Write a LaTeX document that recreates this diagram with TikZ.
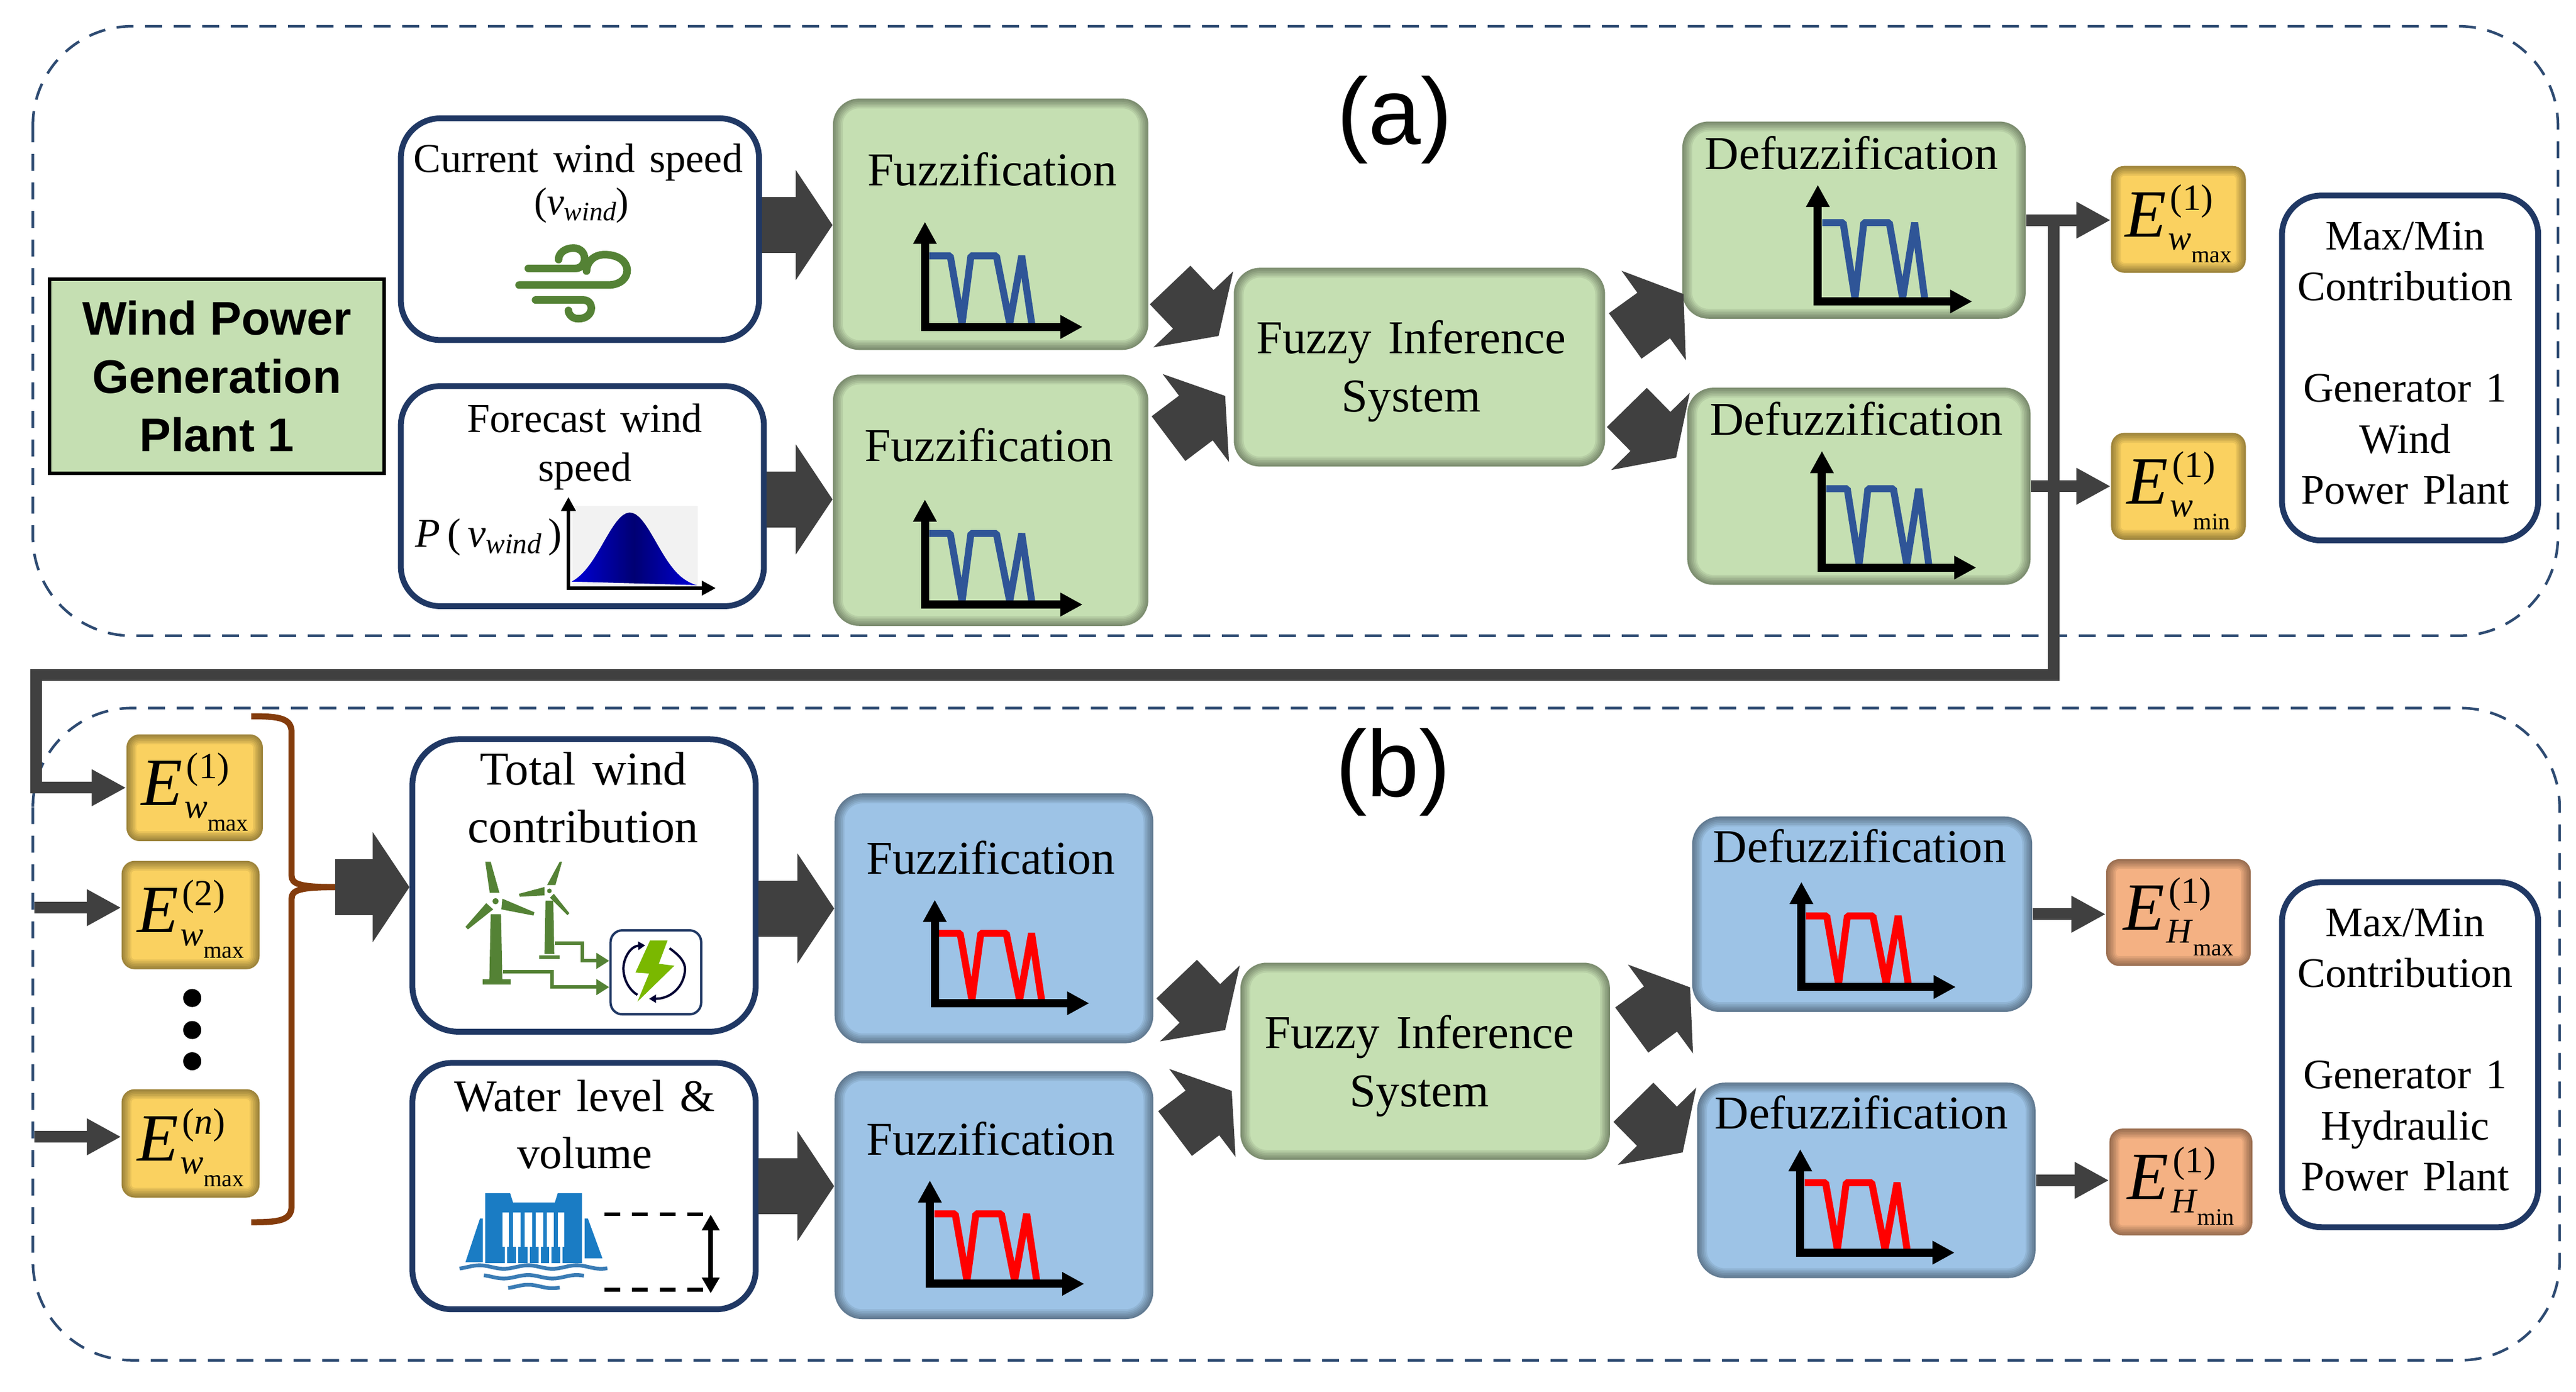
\documentclass[tikz,border=0pt]{standalone}
\usepackage{fontspec}
\setmainfont[WordSpace=1.4]{Liberation Serif}
\newfontfamily\headfont{Liberation Sans}
\usetikzlibrary{arrows.meta,calc}
\definecolor{navyline}{HTML}{203864}
\definecolor{dashline}{HTML}{2E4B72}
\definecolor{arrgray}{HTML}{404040}
\definecolor{softgreen}{HTML}{C5DFB2}
\definecolor{softblue}{HTML}{9DC3E6}
\definecolor{softyellow}{HTML}{FAD160}
\definecolor{softorange}{HTML}{F4B183}
\definecolor{chblue}{HTML}{2F5597}
\definecolor{chred}{HTML}{FF0000}
\definecolor{leafgreen}{HTML}{548235}
\definecolor{boltgreen}{HTML}{7AB800}
\definecolor{damblue}{HTML}{1A7CC4}
\definecolor{wavblue}{HTML}{3A7CB5}
\definecolor{bracebrown}{HTML}{843C0C}
\newcommand{\enlab}[3]{{\fontsize{33}{33}\selectfont\textit{E}}\rlap{\hspace{2pt}\raisebox{13pt}{\fontsize{18}{18}\selectfont #3}}\hspace{1pt}\raisebox{-6.4pt}{\fontsize{17}{17}\selectfont\textit{#1}\raisebox{-6.2pt}{\fontsize{11.5}{11.5}\selectfont #2}}}
\tikzset{
  sz/.style 2 args={minimum width=#1*0.2818mm,minimum height=#2*0.2818mm,inner sep=0pt},
  softbox/.style 2 args={fill=#1,rounded corners=#2*0.2818mm,
    path picture={\foreach \w in {2,4,6,8,10,12}{
      \draw[black,opacity=.07,line width=\w*0.2818mm,rounded corners=#2*0.2818mm]
        (path picture bounding box.south west) rectangle (path picture bounding box.north east);}}},
  greenbox/.style={softbox={softgreen}{16}},
  bluebox/.style={softbox={softblue}{17}},
  ebox/.style={softbox={#1}{8},text height=26pt,text depth=9pt},
  whitebox/.style={draw=navyline,line width=1mm,fill=white,rounded corners=6.8mm,inner sep=0pt},
  zonebox/.style={draw=dashline,line width=.45mm,rounded corners=17mm,dash pattern=on 2.9mm off 2mm},
  boxtxt/.style={font=\fontsize{23}{28.4}\selectfont,align=center,inner sep=0pt},
  sidetxt/.style={font=\fontsize{20.5}{24.8}\selectfont,align=center,inner sep=0pt},
  bigarrow/.style={draw=arrgray,line width=9.6mm,-{Triangle[length=6.3mm,width=18.6mm]}},
  thinarrow/.style={draw=arrgray,line width=2mm,-{Triangle[length=5.9mm,width=5.9mm]}},
  pics/fuzzchart/.style n args={3}{code={
    \draw[#1,line width=1.2mm,line join=bevel] (2.7,-.676*#2) -- (15.4,-.676*#2) -- (22.6,-2) -- (28,-.676*#2)
      -- (43.5,-.676*#2) -- (51.6,-2) -- (58.9,-.676*#2) -- (65,-2);
    \draw[black,line width=1.4mm,{Triangle[length=3.8mm,width=3.8mm]}-{Triangle[length=3.8mm,width=3.8mm]}]
      (0,-#2) -- (0,0) -- (#3,0);
  }}
}
\begin{document}
\begin{tikzpicture}[x=0.2818mm,y=-0.2818mm]
\useasboundingbox (0,0) rectangle (1568,847);
% dashed zones
\draw[zonebox] (20,16) rectangle (1557,387);
\draw[zonebox] (20,431) rectangle (1558,828);
\node[font=\headfont\fontsize{46}{46}\selectfont,inner sep=0pt] (titleA) at (849,73) {(a)};
\node[font=\headfont\fontsize{46}{46}\selectfont,inner sep=0pt] (titleB) at (848,470) {(b)};
% upper row
\node[draw=black,line width=.6mm,fill=softgreen,sz={204}{118},align=center,
  font=\headfont\bfseries\fontsize{23}{28.5}\selectfont] (plant) at (132,229) {Wind Power\\Generation\\Plant 1};
\node[whitebox,sz={218}{135}] (cur) at (353,139.5) {};
\node[whitebox,sz={221}{134}] (fore) at (354.5,302) {};
\node[greenbox,sz={192}{153}] (fuzzA1) at (603,136.5) {};
\node[greenbox,sz={192}{153}] (fuzzA2) at (603,304.5) {};
\node[greenbox,sz={226}{121}] (fisA) at (864,223.5) {};
\node[greenbox,sz={209}{120}] (defA1) at (1128.5,134) {};
\node[greenbox,sz={209}{120}] (defA2) at (1131.5,296) {};
\node[ebox=softyellow,sz={82}{65}] (Eamax) at (1326,133.5) {\enlab{w}{max}{(1)}};
\node[ebox=softyellow,sz={82}{65}] (Eamin) at (1326,296) {\enlab{w}{min}{(1)}};
\node[whitebox,sz={156}{210}] (maxA) at (1467,224) {};
% lower row
\node[ebox=softyellow,sz={83}{65}] (Ew1) at (118.5,479.5) {\enlab{w}{max}{(1)}};
\node[ebox=softyellow,sz={84}{66}] (Ew2) at (116,557) {\enlab{w}{max}{(2)}};
\node[ebox=softyellow,sz={84}{66}] (Ewn) at (116,696) {\enlab{w}{max}{(\textit{n})}};
\node[whitebox,rounded corners=7.9mm,sz={209}{178}] (tot) at (355.5,539) {};
\node[whitebox,sz={209}{150}] (water) at (355.5,722) {};
\node[bluebox,sz={194}{152}] (fuzzB1) at (605,559) {};
\node[bluebox,sz={194}{151}] (fuzzB2) at (605,727.5) {};
\node[greenbox,sz={225}{120}] (fisB) at (867.5,646) {};
\node[bluebox,sz={207}{119}] (defB1) at (1133.5,556.5) {};
\node[bluebox,sz={206}{119}] (defB2) at (1136,718.5) {};
\node[ebox=softorange,sz={88}{65}] (Ehmax) at (1326,555.5) {\enlab{H}{max}{(1)}};
\node[ebox=softorange,sz={87}{65}] (Ehmin) at (1327.5,719.5) {\enlab{H}{min}{(1)}};
\node[whitebox,sz={156}{210}] (maxB) at (1467,642) {};
\foreach \d/\y in {dot1/607.5,dot2/627,dot3/646}
  \node[circle,fill=black,minimum size=3.1mm,inner sep=0pt] (\d) at (117,\y) {};
% box texts
\node[boxtxt,font=\fontsize{20}{24}\selectfont] (curlab) at (352,99) {Current wind speed};
\node[sidetxt,font=\fontsize{19}{19}\selectfont] (curvar) at (354,125) {(\textit{v}\raisebox{-3pt}{\fontsize{13}{13}\selectfont\textit{wind}})};
\node[boxtxt,font=\fontsize{20}{24}\selectfont] (forelab) at (356,272) {Forecast wind\\speed};
\node[sidetxt,font=\fontsize{20}{20}\selectfont] (forevar) at (297.5,327) {\textit{P}\,(\,\textit{v}\raisebox{-3pt}{\fontsize{14}{14}\selectfont\textit{wind}}\,)};
\foreach \n/\x/\y in {a/604/103,b/602/271,c/603/522,d/603/693}
  \node[boxtxt] (fz\n) at (\x,\y) {Fuzzification};
\foreach \n/\x/\y in {a/1127/93,b/1130/255,c/1132/515,d/1133/677}
  \node[boxtxt] (df\n) at (\x,\y) {Defuzzification};
\node[boxtxt] (fisAlab) at (859,226) {Fuzzy Inference\\System};
\node[boxtxt] (fisBlab) at (864,649) {Fuzzy Inference\\System};
\node[boxtxt] (totlab) at (355,485.5) {Total wind\\contribution};
\node[boxtxt,font=\fontsize{22}{28}\selectfont] (watlab) at (356,684.5) {Water level \&\\volume};
\node[sidetxt] (maxAlab) at (1464,221) {Max/Min\\Contribution\\[24.8pt]Generator 1\\Wind\\Power Plant};
\node[sidetxt] (maxBlab) at (1464,639) {Max/Min\\Contribution\\[24.8pt]Generator 1\\Hydraulic\\Power Plant};
% fuzzy charts
\foreach \x/\y/\h in {563/199/64,563/368/64}
  \pic at (\x,\y) {fuzzchart={chblue}{\h}{96}};
\foreach \x/\y/\h in {1106.5/183.5/71,1109/345.5/71}
  \pic at (\x,\y) {fuzzchart={chblue}{\h}{94}};
\foreach \x/\y/\h in {569/610.7/63,566/781.5/63,1096.5/600.8/64,1095.8/762.5/63}
  \pic at (\x,\y) {fuzzchart={chred}{\h}{94}};
% wind icon
\draw[leafgreen,line width=1.3mm,line cap=round] (321.6,163.4) -- (350,163.4)
  .. controls (358,163.4) and (358,151) .. (349,151) .. controls (344,151) and (340,154) .. (340,158);
\draw[leafgreen,line width=1.3mm,line cap=round] (316,173.5) -- (370,173.5)
  .. controls (386,173.5) and (386,155) .. (368,155) .. controls (361,155) and (357,160) .. (357,165);
\draw[leafgreen,line width=1.3mm,line cap=round] (326,182.6) -- (355,182.6)
  .. controls (362,182.6) and (362,194) .. (352,194) .. controls (348,194) and (346,191) .. (346,189);
% forecast curve
\fill[black!5] (348.5,308) rectangle (424.6,358);
\shade[left color=blue!85!black,right color=blue!85!black,middle color=blue!45!black]
  plot[domain=348:424,samples=40] (\x,{358-46*exp(-1*pow(\x-383.4,2)/512)}) -- cycle;
\draw[black,line width=.6mm,{Triangle[length=2.4mm,width=2.4mm]}-{Triangle[length=2.4mm,width=2.4mm]}]
  (346,302.5) -- (346,358) -- (435.7,358);
% turbines and storage
\begin{scope}[shift={(269.7,514.5)},scale=.1183]
  \fill[leafgreen] (245,355) -- (298,355) -- (305,690) -- (238,690) -- cycle;
  \fill[leafgreen] (205,690) rectangle (348,718);
  \fill[leafgreen] (217,85) -- (245,85) -- (290,245) -- (240,245) -- cycle;
  \fill[leafgreen] (305,275) -- (470,345) -- (465,362) -- (300,330) -- cycle;
  \fill[leafgreen] (222,298) -- (258,330) -- (128,433) -- (115,420) -- cycle;
  \fill[leafgreen] (270,288) circle (16);
  \fill[leafgreen] (527,285) -- (567,285) -- (572,560) -- (522,560) -- cycle;
  \fill[leafgreen] (495,568) rectangle (600,585);
  \fill[leafgreen] (600,85) -- (612,85) -- (578,205) -- (535,205) -- cycle;
  \fill[leafgreen] (390,250) -- (395,265) -- (522,258) -- (522,215) -- cycle;
  \fill[leafgreen] (570,250) -- (650,350) -- (640,360) -- (550,270) -- cycle;
  \fill[leafgreen] (547,235) circle (12);
  \draw[leafgreen,line width=.6mm,-{Triangle[length=2.2mm,width=2.6mm]}] (310,650) -- (560,650) -- (560,730) -- (855,730);
  \draw[leafgreen,line width=.6mm,-{Triangle[length=2.2mm,width=2.6mm]}] (575,505) -- (718,505) -- (718,595) -- (855,595);
  \draw[navyline,line width=.4mm,rounded corners=2mm] (862,438) rectangle (1328,870);
  \draw[black!80!blue,line width=.4mm,{Triangle[length=1.2mm,width=1.4mm]}-] (1040,515)
    .. controls (960,520) and (925,590) .. (928,640) .. controls (930,700) and (965,750) .. (1000,770);
  \draw[black!80!blue,line width=.4mm,-{Triangle[length=1.2mm,width=1.4mm]}] (1165,530)
    .. controls (1220,570) and (1245,600) .. (1245,640) .. controls (1240,730) and (1170,790) .. (1060,790);
  \fill[boltgreen] (1065,490) -- (1155,490) -- (1110,610) -- (1190,620) -- (1000,805) -- (1060,660) -- (990,655) -- cycle;
\end{scope}
% dam and water level
\begin{scope}[shift={(269.7,720.4)},scale=.1183]
  \fill[damblue] (217,50) -- (345,50) -- (360,98) -- (575,98) -- (590,50) -- (715,50) -- (715,410) -- (217,410) -- cycle;
  \fill[damblue] (205,180) -- (190,180) -- (115,405) -- (205,405) -- cycle;
  \fill[damblue] (728,180) -- (745,180) -- (820,385) -- (728,385) -- cycle;
  \foreach \a/\b in {305/340,360/400,420/460,478/515,535/570,590/625}{
    \fill[white] (\a,150) rectangle (\b,325);
    \fill[white] ({(\a+\b)/2-6},325) rectangle ({(\a+\b)/2+6},410);}
  \draw[wavblue,line width=.65mm] plot[domain=85:845,samples=60] (\x,{430+9*sin(1.44*\x)});
  \draw[wavblue,line width=.65mm] plot[domain=210:725,samples=40] (\x,{480+9*sin(1.44*\x)});
  \draw[wavblue,line width=.65mm] plot[domain=335:600,samples=30] (\x,{530+9*sin(1.44*\x)});
  \draw[black,line width=.65mm,dash pattern=on 2.7mm off 2.05mm] (830,158) -- (1340,158);
  \draw[black,line width=.65mm,dash pattern=on 2.7mm off 2.05mm] (830,547) -- (1340,547);
  \draw[black,line width=.8mm,{Triangle[length=2.7mm,width=2.9mm]}-{Triangle[length=2.7mm,width=2.9mm]}] (1377,160) -- (1377,565);
\end{scope}
% brace
\coordinate (braceTip) at (204,540);
\draw[bracebrown,line width=1.05mm] (153,436) .. controls (170,436) and (177.5,437) .. (177.5,446) -- (177.5,533)
  .. controls (177.5,538) and (182,540) .. (braceTip);
\draw[bracebrown,line width=1.05mm] (153,744) .. controls (170,744) and (177.5,743) .. (177.5,734) -- (177.5,547)
  .. controls (177.5,542) and (182,540) .. (braceTip);
% fat arrows
\draw[bigarrow] (braceTip) -- (braceTip -| tot.west);
\draw[bigarrow] ($(cur.east)+(0,-2.5)$) -- ($(cur.east -| fuzzA1.west)+(0,-2.5)$);
\draw[bigarrow] ($(fore.east)+(0,2)$) -- ($(fore.east -| fuzzA2.west)+(0,2)$);
\draw[bigarrow] ($(tot.east)+(0,14)$) -- ($(fuzzB1.west)+(0,-6)$);
\draw[bigarrow] (water.east) -- (water.east -| fuzzB2.west);
\draw[bigarrow] ($(fuzzA1.east)+(13,37)$) -- ($(fisA.west)+(-9,-19)$);
\draw[bigarrow] ($(fuzzA2.east)+(12,-37.5)$) -- ($(fisA.west)+(-5,17.5)$);
\draw[bigarrow] ($(fuzzB1.east)+(14,37)$) -- ($(fisB.west)+(-9,-19)$);
\draw[bigarrow] ($(fuzzB2.east)+(13,-37.5)$) -- ($(fisB.west)+(-5,18)$);
\draw[bigarrow] ($(fisA.east)+(12,-19)$) -- ($(defA1.west)+(1,45)$);
\draw[bigarrow] ($(fisA.east)+(13,24.5)$) -- ($(defA2.west)+(-6.5,-17.4)$);
\draw[bigarrow] ($(fisB.east)+(13,-19)$) -- ($(defB1.west)+(-1,44.5)$);
\draw[bigarrow] ($(fisB.east)+(14,25)$) -- ($(defB2.west)+(-8.5,-17)$);
% thin arrows
\coordinate (tapA) at (1250,134);
\coordinate (leftA) at (22,411);
\coordinate (inEw2) at (21,552.5);
\coordinate (inEwn) at (21,692);
\draw[thinarrow] (defA1.east) -- (defA1.east -| Eamax.west);
\draw[thinarrow] (defA2.east) -- (defA2.east -| Eamin.west);
\draw[thinarrow] (tapA) |- (leftA) |- (Ew1.west);
\draw[thinarrow] (inEw2) -- (inEw2 -| Ew2.west);
\draw[thinarrow] (inEwn) -- (inEwn -| Ewn.west);
\draw[thinarrow] (defB1.east) -- (defB1.east -| Ehmax.west);
\draw[thinarrow] (defB2.east) -- (defB2.east -| Ehmin.west);
\end{tikzpicture}
\end{document}
